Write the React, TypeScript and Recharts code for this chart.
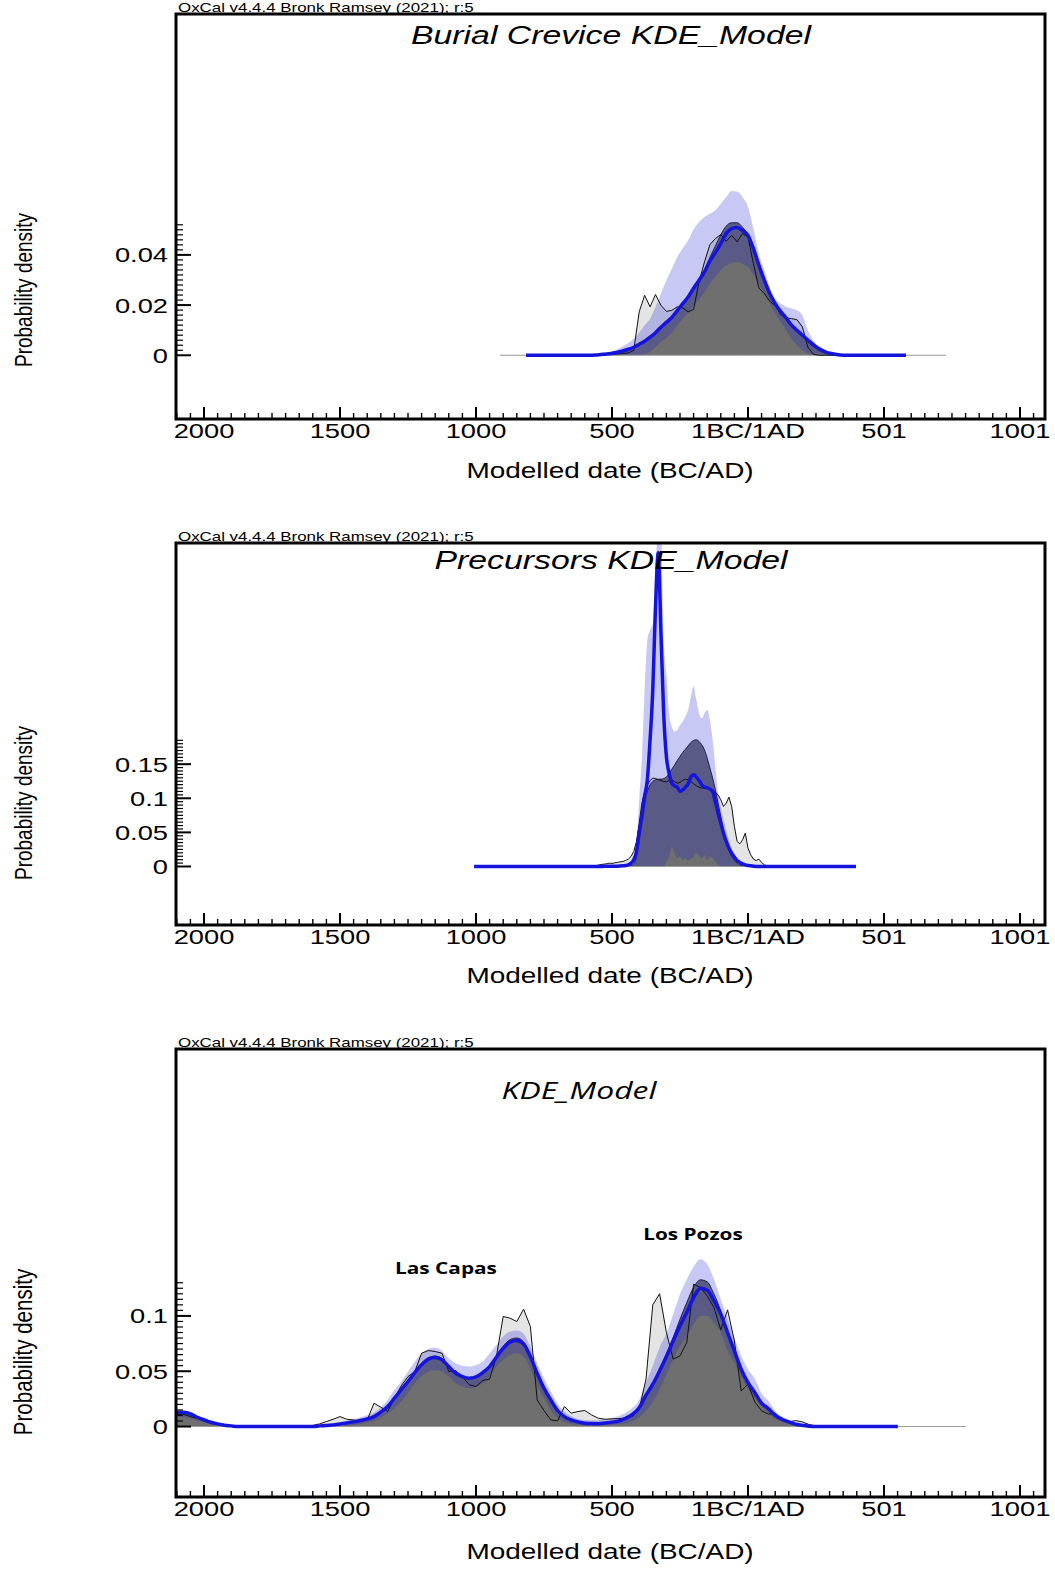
import React from 'react';
import { ComposedChart, Area, Line, XAxis, YAxis } from 'recharts';

const FONT = "'Liberation Sans', Arial, sans-serif";
const SX = 1.3; // the source picture is stretched sideways

// ---------- Burial Crevice ----------
const years1 = [-912, -816,
  -580, -560, -540, -520, -500, -480, -460, -440,
  -420, -400, -380, -360, -340, -320, -300, -280,
  -260, -240, -220, -200, -180, -160, -140, -120,
  -100, -80, -60, -40, -20, 0, 20, 40,
  60, 80, 100, 120, 140, 160, 180, 200,
  220, 240, 260, 280, 300, 320, 340, 360,
  581, 728];
const mean1 = [null, 0,
  0, .0001, .0003, .0005, .0008, .0012, .0017, .0024,
  .0032, .0044, .0056, .0072, .009, .0112, .0131, .0151,
  .0178, .0206, .0232, .0267, .0299, .0332, .0376, .0409,
  .0445, .0485, .0505, .0509, .0497, .0478, .0425, .0359,
  .0299, .0246, .0206, .0175, .0149, .012, .01, .008,
  .0061, .0042, .0027, .0016, .0008, .0004, .0001, 0,
  0, null];
const upper1 = [null, 0,
  0, .0001, .0003, .0007, .0013, .0024, .0036, .0049,
  .0066, .009, .012, .0146, .0193, .0246, .0299, .0345,
  .0392, .0425, .0458, .0502, .0531, .0551, .0564, .0578,
  .0604, .0631, .0655, .0653, .0631, .0591, .0505, .0405,
  .0339, .0272, .0226, .0206, .0193, .0186, .0179, .0159,
  .01, .006, .0033, .002, .0011, .0005, .0003, 0,
  0, null];
const lower1 = [null, 0,
  0, 0, 0, 0, 0, 0, 0, 0,
  0, 0, .0004, .0013, .0033, .0053, .0069, .009,
  .012, .0146, .017, .0197, .0223, .0252, .0286, .0312,
  .0339, .0359, .0369, .0372, .0365, .0352, .0321, .0286,
  .0246, .0206, .0166, .0133, .01, .0066, .004, .002,
  .0007, 0, 0, 0, 0, 0, 0, 0,
  0, null];
const dark1 = [null, 0,
  0, .0001, .0003, .0005, .0008, .0012, .0017, .0024,
  .0032, .0044, .0056, .0072, .009, .011, .013, .015,
  .0175, .02, .023, .0265, .03, .034, .039, .0435,
  .048, .0515, .0528, .0528, .051, .048, .0435, .037,
  .03, .0245, .0205, .0172, .0145, .0118, .0095, .0075,
  .0055, .0035, .002, .001, .0005, .0002, 0, 0,
  0, null];
const light1 = [null, null,
  0, .0001, .0003, .0003, .0004, .0005, .0007, .0009,
  .002, .0173, .0239, .0193, .0242, .0199, .0175, .0179,
  .0193, .0189, .0173, .0183, .0292, .0372, .0441, .0465,
  .0481, .0454, .0478, .0452, .0485, .0471, .0365, .0268,
  .0246, .0215, .0199, .0162, .0149, .0146, .0142, .0113,
  .0033, .0004, 0, 0, 0, 0, 0, 0,
  null, null];

// ---------- Precursors ----------
const years2 = [-1007,
  -560, -550, -540, -530, -520, -510, -500, -490, -480, -470,
  -460, -450, -440, -430, -420, -410, -400, -390, -380, -370,
  -360, -350, -340, -330, -320, -310, -300, -290, -280, -270,
  -260, -250, -240, -230, -220, -210, -200, -190, -180, -170,
  -160, -150, -140, -130, -120, -110, -100, -90, -80, -70,
  -60, -50, -40, -30, -20, -10, 0, 10, 20, 30,
  40, 50, 60, 70, 80,
  397];
const mean2 = [0,
  0, 0, 0, .0002, .0003, .0003, .0004, .0004, .0005, .0007,
  .001, .0015, .0024, .0049, .0098, .022, .0489, .0733, .1026, .1271,
  .1857, .259, .381, .46, .342, .2248, .1613, .1369, .1222, .1183,
  .1163, .11, .1124, .1163, .1212, .131, .1344, .131, .1261, .1197,
  .1163, .1153, .1134, .11, .0953, .0782, .0635, .0489, .0367, .0269,
  .0196, .0137, .0088, .0059, .0039, .0024, .0015, .001, .0005, 0,
  0, 0, 0, 0, 0,
  0];
const upper2 = [0,
  0, 0, .0003, .0005, .0006, .0007, .0008, .0009, .001, .0012,
  .0015, .002, .003, .0039, .0122, .0342, .0978, .1613, .259, .3324,
  .347, .357, .44, .49, .49, .332, .283, .225, .205, .198,
  .2, .2077, .2126, .22, .2297, .2493, .2639, .2444, .2248, .2175,
  .2248, .2297, .215, .1857, .1466, .1075, .088, .0684, .0538, .0391,
  .0269, .0171, .0108, .0068, .0039, .0024, .0015, .001, .0005, 0,
  0, 0, 0, 0, 0,
  0];
const lower2 = [0,
  0, 0, 0, 0, 0, 0, 0, 0, 0, 0,
  0, 0, 0, 0, 0, 0, 0, 0, 0, 0,
  0, 0, 0, 0, 0, 0, .0073, .0147, .0293, .0196,
  .0122, .0147, .0098, .0122, .0088, .0108, .0147, .0196, .0171, .0122,
  .0171, .0098, .0147, .0122, .0073, .0024, 0, 0, 0, 0,
  0, 0, 0, 0, 0, 0, 0, 0, 0, 0,
  0, 0, 0, 0, 0,
  0];
const dark2 = [0,
  0, 0, 0, 0, 0, 0, 0, 0, 0, 0,
  0, 0, 0, .001, .0039, .0147, .0489, .0782, .0978, .11,
  .1197, .1246, .1271, .128, .128, .129, .131, .1369, .1427, .1486,
  .1554, .1613, .1672, .172, .1769, .1818, .1848, .1857, .1833, .1784,
  .1711, .1588, .1442, .1295, .1124, .0929, .0733, .0538, .0367, .0244,
  .0147, .0088, .0049, .0024, .001, 0, 0, 0, 0, 0,
  0, 0, 0, 0, 0,
  0];
const light2 = [null,
  .001, .002, .0029, .0034, .0039, .0049, .0044, .0054, .0059, .0068,
  .0073, .0088, .0108, .0147, .022, .0367, .0635, .0929, .11, .1197,
  .1261, .1295, .129, .1271, .1261, .1246, .1241, .1261, .1271, .1246,
  .1222, .1232, .1261, .128, .1271, .1246, .1212, .1183, .1163, .1149,
  .1153, .1144, .1134, .1114, .1085, .1051, .0978, .088, .0929, .1017,
  .088, .0587, .0367, .0332, .0391, .0489, .0269, .0171, .0108, .0088,
  .0108, .0059, .0024, .001, 0,
  null];

// ---------- All sites ----------
const years3 = [
  -2100, -2075, -2050, -2025, -2000, -1975, -1950, -1925, -1900, -1875,
  -1850, -1825, -1800, -1775, -1750, -1725, -1700, -1675, -1650, -1625,
  -1600, -1575, -1550, -1525, -1500, -1475, -1450, -1425, -1400, -1375,
  -1350, -1325, -1300, -1275, -1250, -1225, -1200, -1175, -1150, -1125,
  -1100, -1075, -1050, -1025, -1000, -975, -950, -925, -900, -875,
  -850, -825, -800, -775, -750, -725, -700, -675, -650, -625,
  -600, -575, -550, -525, -500, -475, -450, -425, -400, -375,
  -350, -325, -300, -275, -250, -225, -200, -175, -150, -125,
  -100, -75, -50, -25, 0, 25, 50, 75, 100, 125,
  150, 175, 200, 225, 250, 275, 300,
  551, 801];
const mean3 = [
  .0127, .0127, .0115, .0084, .006, .0039, .0024, .0012, .0006, 0,
  0, 0, 0, 0, 0, 0, 0, 0, 0, 0,
  0, .0006, .0009, .0015, .0024, .0033, .0042, .0054, .0069, .009,
  .013, .0181, .0256, .0332, .0407, .0488, .0558, .0609, .0624, .0603,
  .0542, .0482, .0452, .0437, .0449, .0488, .0542, .0627, .0708, .0763,
  .0778, .0747, .0633, .0482, .0347, .0241, .0145, .009, .006, .0042,
  .003, .0027, .0026, .0032, .004, .005, .0075, .011, .017, .0283,
  .0383, .0503, .0633, .0775, .091, .1031, .1166, .1251, .1233, .1136,
  .1016, .085, .0684, .0518, .0398, .0307, .0211, .0163, .0102, .0066,
  .0042, .0021, .0012, .0003, 0, 0, 0,
  0, null];
const upper3 = [
  .015, .015, .0136, .0102, .0075, .0051, .0033, .0018, .0009, 0,
  0, 0, 0, 0, 0, 0, 0, 0, 0, 0,
  0, .0009, .0015, .0024, .0036, .0048, .0066, .0084, .0102, .0127,
  .0175, .0241, .0332, .0407, .0497, .0588, .0663, .0702, .0714, .0684,
  .0618, .0573, .0549, .0542, .0555, .0588, .0663, .0738, .0814, .0859,
  .0868, .0838, .0723, .0573, .0437, .0316, .0211, .0136, .0096, .0069,
  .006, .0055, .0058, .0068, .008, .0095, .0125, .017, .024, .0398,
  .0549, .0714, .0841, .1016, .1196, .1332, .1444, .1513, .1468, .1332,
  .1151, .097, .0805, .0639, .0518, .0434, .0301, .0232, .0142, .009,
  .006, .0033, .0021, .0009, 0, 0, 0,
  0, null];
const lower3 = [
  .009, .0084, .0072, .0051, .0036, .0021, .0012, .0006, 0, 0,
  0, 0, 0, 0, 0, 0, 0, 0, 0, 0,
  0, 0, 0, 0, 0, .0005, .0015, .0024, .0036, .0051,
  .0081, .012, .0166, .0226, .0301, .0392, .0452, .0497, .0512, .0497,
  .0452, .0392, .0362, .0347, .0362, .0392, .0452, .0542, .0603, .0648,
  .0663, .0633, .0527, .0377, .0256, .0151, .0075, .0039, .0024, .0015,
  .0012, .0009, .0009, .0012, .0015, .002, .003, .0048, .0081, .0142,
  .0223, .0338, .0473, .0609, .0729, .082, .0925, .1001, .1001, .094,
  .085, .068, .058, .045, .034, .026, .018, .012, .007, .004,
  .002, .001, 0, 0, 0, 0, 0,
  0, null];
const dark3 = [
  .0125, .0125, .0112, .0085, .0058, .0037, .0022, .0011, .0005, 0,
  0, 0, 0, 0, 0, 0, 0, 0, 0, 0,
  0, .0005, .0008, .0014, .0022, .003, .004, .0052, .0067, .0088,
  .0128, .018, .0256, .0335, .0412, .0495, .0568, .0622, .0638, .0615,
  .055, .049, .0458, .0443, .0455, .0495, .0552, .064, .0725, .0785,
  .08, .0765, .0645, .049, .035, .024, .0142, .0087, .0057, .004,
  .0028, .0025, .0025, .003, .0038, .0048, .0072, .0108, .017, .0285,
  .039, .0515, .0654, .0805, .097, .1121, .1257, .1326, .1308, .1197,
  .1046, .0865, .0699, .0535, .041, .0315, .0222, .0165, .0105, .0068,
  .0043, .0022, .0012, .0004, 0, 0, 0,
  0, null];
const light3 = [
  .011, .011, .009, .0075, .0072, .0045, .002, .0008, 0, 0,
  0, 0, 0, 0, 0, 0, 0, 0, 0, 0,
  .001, .0024, .0045, .0066, .009, .0066, .006, .0045, .006, .0211,
  .0175, .0136, .0256, .0368, .0452, .0497, .0663, .0687, .0678, .0663,
  .0497, .0506, .0452, .0377, .0362, .0416, .0428, .0633, .0995, .098,
  .0949, .1061, .0904, .0241, .0145, .006, .0051, .0181, .0121, .0136,
  .0145, .0105, .0075, .0066, .0069, .0072, .0078, .009, .0157, .0428,
  .11, .12, .085, .0609, .0639, .076, .1287, .1257, .1181, .1076,
  .0874, .1055, .0775, .0322, .0383, .0223, .0142, .0112, .0121, .0066,
  .0042, .0054, .0042, .0018, .0006, 0, 0,
  null, null];

// axis ticks (years: negative = BC, 0 = 1BC/1AD boundary)
const X_DOMAIN = [-2103, 1092];
const X_MAJOR = [-2000, -1500, -1000, -500, 0, 500, 1000];
const X_TICKS = Array.from({ length: 64 }, (_, i) => -2100 + i * 50);

const yTicks = (max: number, step: number) =>
  Array.from({ length: Math.round(max / step) + 1 }, (_, i) => Math.round(i * step * 1e6) / 1e6);

const fmtYear = (v: number) => (v < 0 ? String(-v) : v === 0 ? '1BC/1AD' : String(v + 1));

const rows = (years, light, dark, lower, upper, mean) =>
  years.map((year, i) => ({
    year,
    light: light[i],
    dark: dark[i],
    band: upper[i] == null ? null : [lower[i], upper[i]],
    mean: mean[i],
  }));

const panels = [
  {
    top: 0, height: 500, marginTop: 14, xAxisH: 81,
    yDomain: [-0.0254, 0.136], yTicks: yTicks(0.052, 0.002), major: 0.02,
    data: rows(years1, light1, dark1, lower1, upper1, mean1),
  },
  {
    top: 500, height: 505, marginTop: 43, xAxisH: 80,
    yDomain: [-0.0858, 0.4743], yTicks: yTicks(0.185, 0.005), major: 0.05,
    data: rows(years2, light2, dark2, lower2, upper2, mean2),
  },
  {
    top: 1005, height: 565, marginTop: 44, xAxisH: 73,
    yDomain: [-0.0637, 0.3413], yTicks: yTicks(0.13, 0.005), major: 0.05,
    data: rows(years3, light3, dark3, lower3, upper3, mean3),
  },
];

const XTick = (props: any) => {
  const { x, y, payload } = props;
  const v = payload.value;
  const major = X_MAJOR.includes(v);
  return (
    <g>
      <line x1={x} x2={x} y1={y} y2={y - (major ? 12 : 6)} stroke="#000" strokeWidth={major ? 2 : 1.4} />
      {major && (
        <text transform={`translate(${x},${y + 19}) scale(${SX},1)`} textAnchor="middle" fontSize={21} fontFamily={FONT} fill="#000">
          {fmtYear(v)}
        </text>
      )}
    </g>
  );
};

const YTick = (props: any) => {
  const { x, y, payload, step } = props;
  const v = payload.value;
  const major = Math.abs(v / step - Math.round(v / step)) < 1e-6;
  return (
    <g>
      <line x1={x} x2={x + (major ? 15 : 7)} y1={y} y2={y} stroke="#000" strokeWidth={major ? 2 : 1.2} />
      {major && (
        <text transform={`translate(${x - 8},${y + 7.5}) scale(${SX},1)`} textAnchor="end" fontSize={21} fontFamily={FONT} fill="#000">
          {String(Number(v.toFixed(4)))}
        </text>
      )}
    </g>
  );
};

const Panel = ({ cfg }: any) => (
  <div style={{ position: 'absolute', left: 0, top: cfg.top }}>
    <ComposedChart width={1055} height={cfg.height} data={cfg.data} margin={{ top: cfg.marginTop, right: 10, bottom: 0, left: 0 }}>
      <XAxis
        type="number" dataKey="year" domain={X_DOMAIN} allowDataOverflow ticks={X_TICKS} interval={0}
        tickSize={0} tickMargin={0} axisLine={false} tickLine={false} height={cfg.xAxisH} tick={(p) => <XTick {...p} />}
      />
      <YAxis
        type="number" domain={cfg.yDomain} allowDataOverflow ticks={cfg.yTicks} interval={0}
        tickSize={0} tickMargin={0} axisLine={false} tickLine={false} width={176} tick={(p) => <YTick {...p} step={cfg.major} />}
      />
      <Line dataKey={() => 0} stroke="#9a9a9a" strokeWidth={1} dot={false} isAnimationActive={false} />
      <Area dataKey="light" type="linear" fill="#e4e4e4" fillOpacity={1} stroke="none" isAnimationActive={false} />
      <Area dataKey="dark" type="monotone" fill="#6f6f6f" fillOpacity={1} stroke="#222" strokeWidth={1} isAnimationActive={false} />
      <Area dataKey="band" type="monotone" fill="#1818d1" fillOpacity={0.24} stroke="none" isAnimationActive={false} />
      <Line dataKey="light" type="linear" stroke="#111" strokeWidth={1} dot={false} isAnimationActive={false} />
      <Line dataKey="mean" type="monotone" stroke="#1414dc" strokeWidth={3.5} dot={false} isAnimationActive={false} />
    </ComposedChart>
  </div>
);

const T = ({ x, y, size, children, anchor = 'middle', family = FONT, italic = false, bold = false }: any) => (
  <text
    transform={`translate(${x},${y}) scale(${SX},1)`}
    textAnchor={anchor} fontSize={size} fontFamily={family}
    fontStyle={italic ? 'italic' : 'normal'} fontWeight={bold ? 700 : 400} fill="#000"
  >
    {children}
  </text>
);

const YLabel = ({ cy, size }: any) => (
  <text transform={`translate(32,${cy}) scale(${SX},1) rotate(-90)`} textAnchor="middle" fontSize={size} fontFamily={FONT} fill="#000">
    Probability density
  </text>
);

const OXCAL = 'OxCal v4.4.4 Bronk Ramsey (2021); r:5';

export default function App() {
  return (
    <div style={{ position: 'absolute', left: 0, top: 0, width: 1055, height: 1570, background: '#fff' }}>
      {panels.map((p, i) => <Panel key={i} cfg={p} />)}
      <svg width={1055} height={1570} style={{ position: 'absolute', left: 0, top: 0, pointerEvents: 'none' }}>
        {panels.map((p, i) => (
          <rect key={i} x={176} y={p.top + p.marginTop} width={869} height={p.height - p.marginTop - p.xAxisH} fill="none" stroke="#000" strokeWidth={3} />
        ))}
        <T x={178} y={12} size={13} anchor="start">{OXCAL}</T>
        <T x={611} y={44} size={26} italic>Burial Crevice KDE_Model</T>
        <YLabel cy={290} size={19} />
        <T x={610} y={478} size={21.5}>Modelled date (BC/AD)</T>

        <T x={178} y={541} size={13} anchor="start">{OXCAL}</T>
        <T x={611} y={569} size={26} italic>Precursors KDE_Model</T>
        <YLabel cy={803} size={19} />
        <T x={610} y={983} size={21.5}>Modelled date (BC/AD)</T>

        <T x={178} y={1047} size={13} anchor="start">{OXCAL}</T>
        <T x={579} y={1099} size={24.5} italic family="'Open Sans', sans-serif">KDE_Model</T>
        <T x={446} y={1274} size={16} bold family="'Open Sans', sans-serif">Las Capas</T>
        <T x={693} y={1240} size={16} bold family="'Open Sans', sans-serif">Los Pozos</T>
        <YLabel cy={1352} size={20.5} />
        <T x={610} y={1559} size={21.5}>Modelled date (BC/AD)</T>
      </svg>
    </div>
  );
}
